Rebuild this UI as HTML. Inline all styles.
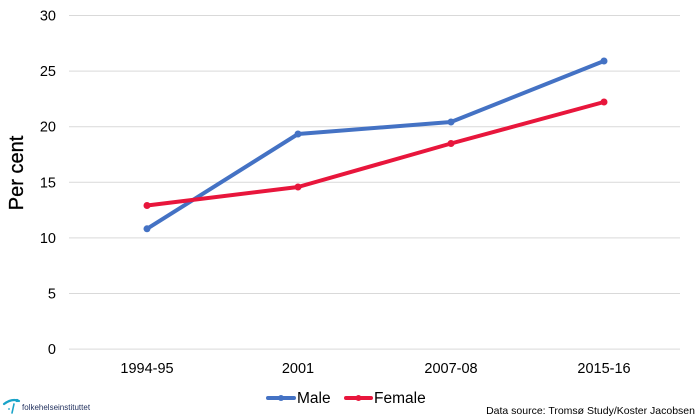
<!DOCTYPE html>
<html><head><meta charset="utf-8"><style>
html,body{margin:0;padding:0;background:#fff;}
svg{display:block;}
text{font-family:"Liberation Sans",Arial,sans-serif;}
</style></head><body>
<svg width="700" height="420" viewBox="0 0 700 420" xmlns="http://www.w3.org/2000/svg">
<rect width="700" height="420" fill="#fff"/>
<g stroke="#d9d9d9" stroke-width="1">
<line x1="69" y1="15.5" x2="680" y2="15.5"/>
<line x1="69" y1="71.1" x2="680" y2="71.1"/>
<line x1="69" y1="126.7" x2="680" y2="126.7"/>
<line x1="69" y1="182.3" x2="680" y2="182.3"/>
<line x1="69" y1="237.9" x2="680" y2="237.9"/>
<line x1="69" y1="293.5" x2="680" y2="293.5"/>
<line x1="69" y1="349.1" x2="680" y2="349.1"/>
</g>
<g font-size="14.5" fill="#000" text-anchor="end">
<text x="56" y="20.5">30</text>
<text x="56" y="76.1">25</text>
<text x="56" y="131.7">20</text>
<text x="56" y="187.3">15</text>
<text x="56" y="242.9">10</text>
<text x="56" y="298.5">5</text>
<text x="56" y="354.1">0</text>
</g>
<text transform="translate(23,173) rotate(-90)" font-size="20" text-anchor="middle" fill="#000" stroke="#000" stroke-width="0.3">Per cent</text>
<g font-size="14.5" fill="#000" text-anchor="middle">
<text x="147" y="373">1994-95</text>
<text x="298" y="373">2001</text>
<text x="451" y="373">2007-08</text>
<text x="604" y="373">2015-16</text>
</g>
<polyline points="147,228.8 298,134 451,122 604,61" fill="none" stroke="#4472c4" stroke-width="4" stroke-linejoin="round" stroke-linecap="round"/>
<g fill="#4472c4">
<circle cx="147" cy="228.8" r="3.5"/><circle cx="298" cy="134" r="3.5"/><circle cx="451" cy="122" r="3.5"/><circle cx="604" cy="61" r="3.5"/>
</g>
<polyline points="147,205.5 298,187 451,143.5 604,102" fill="none" stroke="#e8163c" stroke-width="4" stroke-linejoin="round" stroke-linecap="round"/>
<g fill="#e8163c">
<circle cx="147" cy="205.5" r="3.5"/><circle cx="298" cy="187" r="3.5"/><circle cx="451" cy="143.5" r="3.5"/><circle cx="604" cy="102" r="3.5"/>
</g>
<line x1="268" y1="398" x2="294" y2="398" stroke="#4472c4" stroke-width="4" stroke-linecap="round"/>
<circle cx="281" cy="398" r="3" fill="#4472c4"/>
<text x="297" y="403" font-size="15.5" fill="#000">Male</text>
<line x1="346" y1="398" x2="371" y2="398" stroke="#e8163c" stroke-width="4" stroke-linecap="round"/>
<circle cx="358.5" cy="398" r="3" fill="#e8163c"/>
<text x="374" y="403" font-size="15.5" fill="#000">Female</text>
<text x="695" y="414" font-size="10.5" fill="#000" text-anchor="end">Data source: Tromsø Study/Koster Jacobsen</text>
<path d="M4,404 Q12,398 19,401" fill="none" stroke="#19a3c8" stroke-width="2.2" stroke-linecap="round"/>
<circle cx="17" cy="400.5" r="1.6" fill="#19a3c8"/>
<line x1="14" y1="404" x2="12" y2="413" stroke="#19a3c8" stroke-width="1.6" stroke-linecap="round"/>
<circle cx="9" cy="409" r="0.9" fill="#19a3c8"/>
<text x="22" y="410" font-size="8" fill="#1f2e5c">folkehelseinstituttet</text>
</svg>
</body></html>
